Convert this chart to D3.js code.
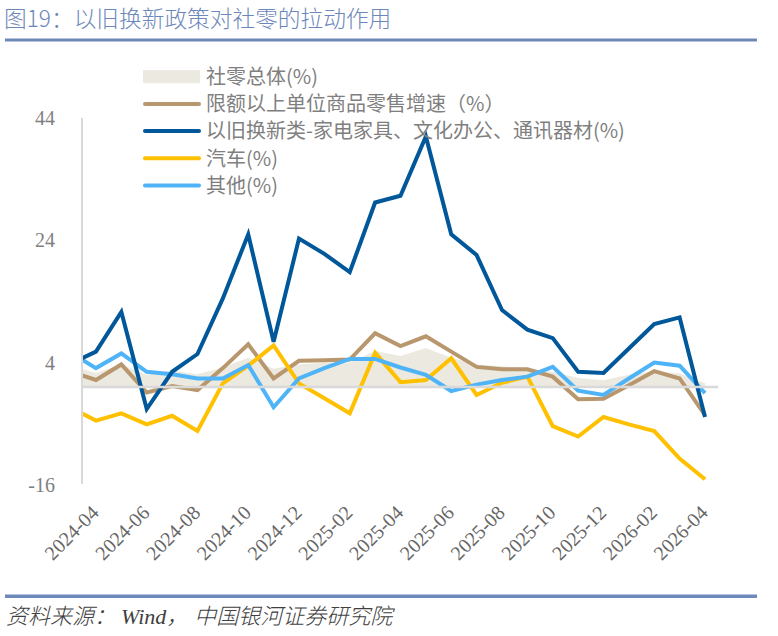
<!DOCTYPE html>
<html><head><meta charset="utf-8">
<script src="https://cdn.jsdelivr.net/npm/d3@7"></script>
<style>
html,body{margin:0;padding:0;background:#fff;}
svg{display:block;}
</style></head>
<body>
<svg id="c" width="778" height="636"></svg>
<script>
// ---- data ----
const months = ["2024-03","2024-04","2024-05","2024-06","2024-07","2024-08","2024-09","2024-10","2024-11","2024-12",
  "2025-01","2025-02","2025-03","2025-04","2025-05","2025-06","2025-07","2025-08","2025-09","2025-10","2025-11","2025-12",
  "2026-01","2026-02","2026-03","2026-04"];
const tickLabels = ["2024-04","2024-06","2024-08","2024-10","2024-12","2025-02","2025-04","2025-06","2025-08","2025-10","2025-12","2026-02","2026-04"];
const yTicks = [-16, 4, 24, 44];
const seriesNames = ["社零总体(%)","限额以上单位商品零售增速（%）","以旧换新类-家电家具、文化办公、通讯器材(%)","汽车(%)","其他(%)"];
const totalRetail = [3.5,2.3,3.7,2.0,2.7,2.1,3.2,4.8,3.0,3.7,4.0,4.0,5.9,5.1,6.4,4.8,3.7,3.4,3.0,2.5,1.5,1.1,2.0,2.6,2.2,0.6];
const aboveLimit  = [2.5,1.15,3.7,-0.9,0.15,-0.5,3.1,7.0,1.4,4.3,4.4,4.5,8.8,6.7,8.3,5.8,3.3,2.9,2.9,1.7,-2.0,-1.9,0.3,2.6,1.4,-4.6];
const tradeIn     = [3.8,5.8,12.3,-3.6,2.5,5.4,14.5,25.0,7.4,24.3,21.8,18.8,30.2,31.3,41.0,25.0,21.6,12.6,9.4,8.0,2.5,2.3,6.3,10.3,11.4,-4.9];
const autos       = [-3.4,-5.5,-4.3,-6.1,-4.7,-7.2,0.6,3.5,6.8,0.6,-1.85,-4.3,5.6,0.8,1.15,4.7,-1.3,0.7,1.7,-6.4,-8.1,-4.9,-6.1,-7.2,-11.7,-15.1];
const others      = [5.6,3.1,5.5,2.5,2.1,1.4,1.4,3.6,-3.3,1.4,3.1,4.6,4.6,3.2,2.0,-0.65,0.4,1.15,1.7,3.3,-0.6,-1.3,1.4,4.0,3.5,-1.0];

// ---- layout ----
const svg = d3.select("#c");
const plotL = 82, plotR = 718, plotT = 118, plotB = 484;
const x = d3.scalePoint().domain(months).range([70.6, 705]);
const y = d3.scaleLinear().domain([-16, 44]).range([484.8, 118.2]);
const colors = {area:"#ECE9E0", brown:"#B9976E", dark:"#00579A", yellow:"#FFC000", light:"#4EB3F7"};

// title
svg.append("text").attr("x",4).attr("y",27)
  .attr("font-family","'Noto Sans CJK SC', sans-serif").attr("font-size",22.7).attr("font-weight",300).attr("fill","#6C87BA")
  .text("图19：以旧换新政策对社零的拉动作用");
svg.append("rect").attr("x",5).attr("y",38.5).attr("width",752).attr("height",3).attr("fill","#6E89BB");
svg.append("rect").attr("x",5).attr("y",594.5).attr("width",752).attr("height",3.5).attr("fill","#6E89BB");

// source
const src = svg.append("text").attr("x",6).attr("y",624).attr("font-size",22).attr("fill","#404040")
  .attr("font-style","italic").attr("font-family","'Noto Sans CJK SC', sans-serif").attr("font-weight",300)
  .attr("xml:space","preserve");
src.append("tspan").text("资料来源：");
src.append("tspan").attr("dx",5).attr("font-family","'Liberation Serif', serif").attr("font-weight",400).text("Wind");
src.append("tspan").text("，");
src.append("tspan").attr("dx",6).text("中国银河证券研究院");

// clip
svg.append("clipPath").attr("id","clp").append("rect")
  .attr("x",plotL).attr("y",100).attr("width",plotR-plotL).attr("height",400);
const g = svg.append("g").attr("clip-path","url(#clp)");

// area
g.append("path").datum(totalRetail)
  .attr("d", d3.area().x((d,i)=>x(months[i])).y0(y(0)).y1(d=>y(d)))
  .attr("fill", colors.area);
// zero line
svg.append("line").attr("x1",plotL).attr("x2",plotR).attr("y1",y(0)).attr("y2",y(0))
  .attr("stroke","#D9D9D9").attr("stroke-width",2.5);

const line = d3.line().x((d,i)=>x(months[i])).y(d=>y(d));
[[aboveLimit,colors.brown],[autos,colors.yellow],[others,colors.light],[tradeIn,colors.dark]].forEach(([s,c])=>{
  g.append("path").datum(s).attr("d",line).attr("fill","none")
    .attr("stroke",c).attr("stroke-width",4).attr("stroke-linejoin","miter");
});

// y axis
svg.append("line").attr("x1",plotL).attr("x2",plotL).attr("y1",plotT).attr("y2",plotB)
  .attr("stroke","#D9D9D9").attr("stroke-width",2);
svg.append("g").selectAll("text").data(yTicks).join("text")
  .attr("x",55).attr("y",d=>y(d)).attr("dy","0.35em").attr("text-anchor","end")
  .attr("font-family","'Liberation Serif', serif").attr("font-size",20).attr("fill","#7F7F7F")
  .text(d=>d);

// x labels
svg.append("g").selectAll("text").data(tickLabels).join("text")
  .attr("transform",d=>`translate(${x(d)+4},514) rotate(-45)`)
  .attr("text-anchor","end")
  .attr("font-family","'Liberation Serif', serif").attr("font-size",20).attr("fill","#666666")
  .text(d=>d);

// legend
const lg = svg.append("g");
const lgY0 = 76.7, lgStep = 27.2;
const lgColors = [colors.area, colors.brown, colors.dark, colors.yellow, colors.light];
seriesNames.forEach((n,i)=>{
  const yy = lgY0 + i*lgStep;
  if(i===0){
    lg.append("rect").attr("x",143).attr("y",yy-6.5).attr("width",57).attr("height",13).attr("fill",colors.area);
  } else {
    lg.append("line").attr("x1",145).attr("x2",199).attr("y1",yy).attr("y2",yy)
      .attr("stroke",lgColors[i]).attr("stroke-width",4).attr("stroke-linecap","round");
  }
  lg.append("text").attr("x",206).attr("y",yy).attr("dy","0.36em")
    .attr("font-family","'Noto Sans CJK SC', sans-serif").attr("font-size",20).attr("fill","#7F7F7F")
    .text(n);
});
</script>
</body></html>
